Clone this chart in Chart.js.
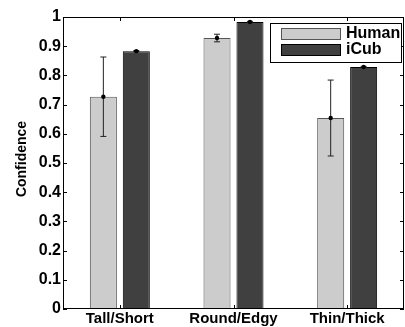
<!DOCTYPE html>
<html>
<head>
<meta charset="utf-8">
<script src="https://cdn.jsdelivr.net/npm/chart.js@4.4.1/dist/chart.umd.min.js"></script>
<style>
  body { margin: 0; background: #fff; overflow: hidden; }
  #wrap { width: 405px; height: 327px; }
</style>
</head>
<body>
<div id="wrap"><canvas id="myChart"></canvas></div>
<script>
var categories = ['Tall/Short', 'Round/Edgy', 'Thin/Thick'];
var humanData = [0.727, 0.928, 0.654];
var humanErr = [0.136, 0.013, 0.13];
var icubData = [0.883, 0.983, 0.829];
var icubErr = [0.002, 0.002, 0.002];
var yTicks = [0, 0.1, 0.2, 0.3, 0.4, 0.5, 0.6, 0.7, 0.8, 0.9, 1];

var font = 'Liberation Sans, Arial, sans-serif';

// error bars + dots on top of the bars
var errorBars = {
  id: 'errorBars',
  afterDatasetsDraw: function(chart) {
    var c = chart.ctx, y = chart.scales.y;
    chart.data.datasets.forEach(function(ds, d) {
      var meta = chart.getDatasetMeta(d);
      meta.data.forEach(function(bar, i) {
        var v = ds.data[i], e = ds.err[i];
        var yt = y.getPixelForValue(v + e), yb = y.getPixelForValue(v - e);
        c.save();
        c.strokeStyle = '#222';
        c.lineWidth = 1;
        c.beginPath();
        c.moveTo(bar.x, yt); c.lineTo(bar.x, yb);
        c.moveTo(bar.x - 3, yt); c.lineTo(bar.x + 3, yt);
        c.moveTo(bar.x - 3, yb); c.lineTo(bar.x + 3, yb);
        c.stroke();
        c.fillStyle = '#000';
        c.beginPath();
        c.arc(bar.x, y.getPixelForValue(v), 2.2, 0, Math.PI * 2);
        c.fill();
        c.restore();
      });
    });
  }
};

// matlab style box, inward ticks, boxed legend
var boxAndLegend = {
  id: 'boxAndLegend',
  afterDraw: function(chart) {
    var c = chart.ctx, a = chart.chartArea;
    var x = chart.scales.x, y = chart.scales.y;
    c.save();
    c.strokeStyle = '#000';
    c.lineWidth = 1;
    c.strokeRect(a.left + 0.5, a.top + 0.5, a.right - a.left - 1, a.bottom - a.top - 1);
    c.beginPath();
    yTicks.forEach(function(t) {
      var py = Math.round(y.getPixelForValue(t)) + 0.5;
      c.moveTo(a.left, py); c.lineTo(a.left + 4, py);
      c.moveTo(a.right, py); c.lineTo(a.right - 4, py);
    });
    categories.forEach(function(cat, i) {
      var px = Math.round(x.getPixelForValue(i)) + 0.5;
      c.moveTo(px, a.top); c.lineTo(px, a.top + 4);
      c.moveTo(px, a.bottom); c.lineTo(px, a.bottom - 4);
    });
    c.stroke();

    // legend
    var lx = 270, ly = 23, lw = 131, lh = 39;
    c.fillStyle = '#fff';
    c.fillRect(lx, ly, lw, lh);
    c.strokeRect(lx + 0.5, ly + 0.5, lw, lh);
    chart.data.datasets.forEach(function(ds, d) {
      var sy = ly + 5 + d * 16;
      c.fillStyle = ds.backgroundColor;
      c.fillRect(281, sy, 59, 11);
      c.strokeStyle = ds.borderColor;
      c.strokeRect(281.5, sy + 0.5, 59, 11);
      c.fillStyle = '#000';
      c.font = 'bold 16px ' + font;
      c.textBaseline = 'middle';
      c.fillText(ds.label, 346, sy + 6);
    });

    // y title
    c.translate(22, 159);
    c.rotate(-Math.PI / 2);
    c.font = 'bold 14px ' + font;
    c.textAlign = 'center';
    c.textBaseline = 'middle';
    c.fillStyle = '#000';
    c.fillText('Confidence', 0, 0);
    c.restore();
  }
};

new Chart(document.getElementById('myChart'), {
  type: 'bar',
  data: {
    labels: categories,
    datasets: [{
      label: 'Human',
      data: humanData,
      err: humanErr,
      backgroundColor: '#cccccc',
      borderColor: '#555555',
      borderWidth: 1
    }, {
      label: 'iCub',
      data: icubData,
      err: icubErr,
      backgroundColor: '#404040',
      borderColor: '#000000',
      borderWidth: 1
    }]
  },
  options: {
    responsive: true,
    maintainAspectRatio: false,
    animation: false,
    layout: { padding: { top: 17, right: 1, left: 0, bottom: 0 } },
    barPercentage: 0.82,
    categoryPercentage: 0.58,
    plugins: { legend: { display: false }, tooltip: { enabled: false } },
    scales: {
      x: {
        grid: { display: false, drawTicks: false },
        border: { display: false },
        ticks: { color: '#000', font: { family: font, size: 15, weight: 'bold' }, padding: 1, maxRotation: 0 },
        afterFit: function(s) { s.height = 18; }
      },
      y: {
        min: 0,
        max: 1,
        grid: { display: false, drawTicks: false },
        border: { display: false },
        ticks: {
          stepSize: 0.1, color: '#000', font: { family: font, size: 16, weight: 'bold' }, padding: 2,
          callback: function(v) { return String(+v.toFixed(1)); }
        },
        afterFit: function(s) { s.width = 63; }
      }
    }
  },
  plugins: [errorBars, boxAndLegend]
});
</script>
</body>
</html>
